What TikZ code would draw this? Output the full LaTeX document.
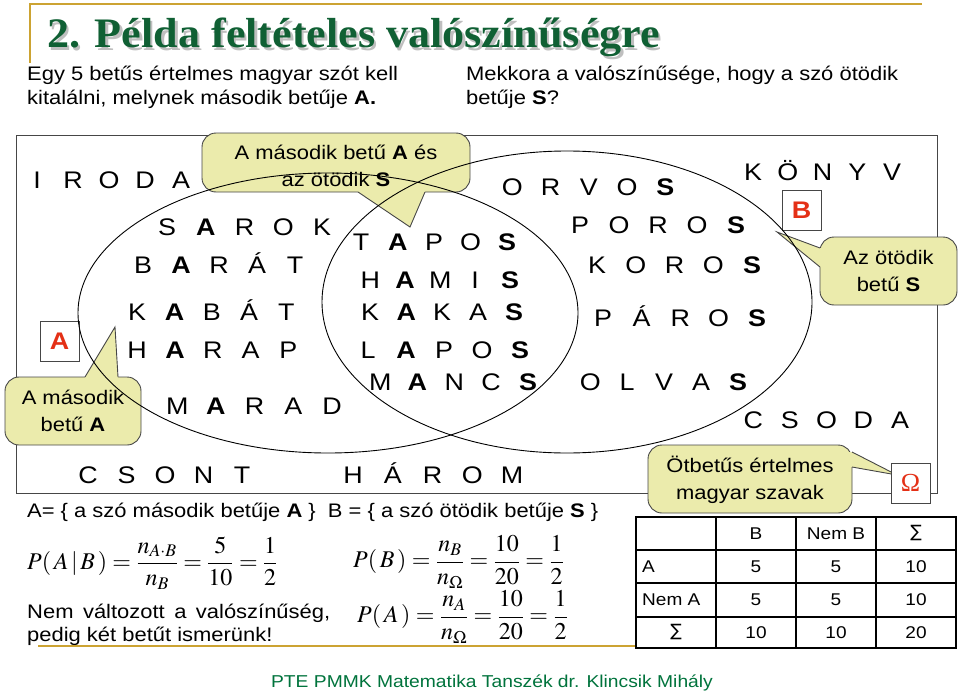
\documentclass[tikz,border=0pt]{standalone}
\usepackage{mathptmx}
\usepackage{amsmath}
\usepackage[no-math]{fontspec}
\setmainfont[FakeStretch=1.12]{Liberation Sans}
\newfontfamily\ttlfont[FakeStretch=1.05]{Liberation Serif}
\newfontfamily\srf{Liberation Serif}
\newfontfamily\djv{DejaVu Sans}
\usepackage{graphicx}
\usetikzlibrary{shapes.geometric}
\definecolor{callfill}{RGB}{235,235,172}
\definecolor{gold}{RGB}{204,163,50}
\definecolor{ttlgreen}{RGB}{16,96,52}
\definecolor{ftgreen}{RGB}{0,115,60}
\definecolor{redl}{RGB}{228,48,22}
\definecolor{frame}{RGB}{70,70,70}
\newcommand\fs[2]{\fontsize{#1}{#2}\selectfont}
\newlength\pitch
\newcommand\lw[1]{\makebox[\pitch]{#1}}
\newcommand\wrow[9]{\node[wrd] (#1) at ({#3-#2/2},{#4+8.5}) {\setlength\pitch{#2pt}\lw{#5}\lw{#6}\lw{#7}\lw{#8}\lw{#9}};}
\tikzset{
  wrd/.style={anchor=base west, inner sep=0pt, font=\fs{24}{28}},
  callbox/.style={draw=frame, line width=0.9pt, fill=callfill, rounded corners=14pt, inner sep=0pt},
  calltext/.style={align=center, font=\fs{19.6}{26.5}, inner sep=0pt},
  txt/.style={anchor=base west, inner sep=0pt, font=\fs{19.6}{24}},
  lbox/.style={draw=frame, line width=0.9pt, fill=white, inner sep=0pt},
  cell/.style={font=\fs{17}{20}, inner sep=0pt},
  setell/.style={ellipse, draw=black, line width=0.9pt, inner sep=0pt},
  ptr/.style={draw=frame, line width=0.9pt, line join=miter},
  mth/.style={anchor=west, inner sep=0pt, font=\fs{24}{28}}
}
\begin{document}
\begin{tikzpicture}[x=1pt,y=-1pt]
\useasboundingbox (0,0) rectangle (960,693);
% title
\draw[gold, line width=2pt] (30,63) -- (30,4) -- (922,4);
\node[anchor=base west, inner sep=0pt, text=black!25, font=\ttlfont\bfseries\fs{42}{46}] (ttlsh) at (49.5,50.5) {2. Példa feltételes valószínűségre};
\node[anchor=base west, inner sep=0pt, text=ttlgreen, font=\ttlfont\bfseries\fs{42}{46}] (ttl) at (47,48) {2. Példa feltételes valószínűségre};
\node[txt] (q1) at (27,80) {Egy 5 betűs értelmes magyar szót kell};
\node[txt] (q2) at (27,104) {kitalálni, melynek második betűje \textbf{A.}};
\node[txt] (q3) at (466,80) {Mekkora a valószínűsége, hogy a szó ötödik};
\node[txt] (q4) at (466,104) {betűje \textbf{S}?};
% main frame
\draw[frame, line width=1pt] (16,135) rectangle (937,493);
% callouts
\node[callbox, minimum width=268pt, minimum height=59pt] (ctop) at (336,162.5) {};
\fill[callfill] (358,189) -- (358,192) -- (410,227) -- (425,192) -- (425,189) -- cycle;
\draw[ptr] (358,192) -- (410,227) -- (425,192);
\node[calltext] (ctopt) at (336,166) {A második betű \textbf{A} és\\az ötödik \textbf{S}};
\node[callbox, minimum width=136pt, minimum height=68pt] (cleft) at (73,411) {};
\fill[callfill] (85,380) -- (85,377) -- (115,327) -- (118,377) -- (118,380) -- cycle;
\draw[ptr] (85,377) -- (115,327) -- (118,377);
\node[calltext] (cleftt) at (73,411) {A második\\betű \textbf{A}};
\node[callbox, minimum width=137pt, minimum height=68pt] (cright) at (888.5,271) {};
\fill[callfill] (823,248) -- (820,248) -- (777,232) -- (820,267) -- (823,267) -- cycle;
\draw[ptr] (820,248) -- (777,232) -- (820,267);
\node[calltext] (crightt) at (888.5,271) {Az ötödik\\betű \textbf{S}};
\node[callbox, minimum width=204pt, minimum height=68pt] (cbot) at (750,479) {};
\fill[callfill] (849,452) -- (852,452) -- (897,475) -- (852,467) -- (849,467) -- cycle;
\draw[ptr] (852,452) -- (897,475) -- (852,467);
\node[calltext] (cbott) at (750,480) {Ötbetűs értelmes\\magyar szavak};
% set boxes
\node[lbox, minimum width=39pt, minimum height=40pt, text=redl, font=\fs{24}{26}\bfseries] (boxA) at (59.5,341) {A};
\node[lbox, minimum width=39pt, minimum height=40pt, text=redl, font=\fs{24}{26}\bfseries] (boxB) at (801.5,210) {B};
\node[lbox, minimum width=39pt, minimum height=40pt, text=redl, font=\srf\fs{26}{28}] (boxO) at (910.5,483) {Ω};
% ellipses
\node[setell, minimum width=500pt, minimum height=280pt] (setA) at (328,313) {};
\node[setell, minimum width=490pt, minimum height=302pt] (setB) at (567,302) {};
% words
\wrow{iroda}{36}{37}{180}{I}{R}{O}{D}{A}
\wrow{sarok}{38.7}{167}{227}{S}{\textbf{A}}{R}{O}{K}
\wrow{barat}{38}{143}{265}{B}{\textbf{A}}{R}{Á}{T}
\wrow{kabat}{37.3}{137}{312}{K}{\textbf{A}}{B}{Á}{T}
\wrow{harap}{37.8}{137}{350}{H}{\textbf{A}}{R}{A}{P}
\wrow{marad}{38.7}{177}{406}{M}{\textbf{A}}{R}{A}{D}
\wrow{tapos}{36.5}{361}{242}{T}{\textbf{A}}{P}{O}{\textbf{S}}
\wrow{hamis}{35}{370}{280}{H}{\textbf{A}}{M}{I}{\textbf{S}}
\wrow{kakas}{36}{370}{312}{K}{\textbf{A}}{K}{A}{\textbf{S}}
\wrow{lapos}{38}{368}{350}{L}{\textbf{A}}{P}{O}{\textbf{S}}
\wrow{mancs}{37}{380}{382}{M}{\textbf{A}}{N}{C}{\textbf{S}}
\wrow{orvos}{38.3}{512}{187}{O}{R}{V}{O}{\textbf{S}}
\wrow{poros}{39}{580}{225}{P}{O}{R}{O}{\textbf{S}}
\wrow{koros}{38.7}{597}{265}{K}{O}{R}{O}{\textbf{S}}
\wrow{paros}{38.5}{603}{318}{P}{Á}{R}{O}{\textbf{S}}
\wrow{olvas}{37}{590}{382}{O}{L}{V}{A}{\textbf{S}}
\wrow{konyv}{34.7}{753}{172}{K}{Ö}{N}{Y}{V}
\wrow{csoda}{36.7}{753}{420}{C}{S}{O}{D}{A}
\wrow{csont}{38.5}{88}{475}{C}{S}{O}{N}{T}
\wrow{harom}{39.7}{353}{475}{H}{Á}{R}{O}{M}
% definitions and formulas
\node[txt] (defs) at (27,517) {A= \{ a szó második betűje \textbf{A} \}\ \ B = \{ a szó ötödik betűje \textbf{S} \}};
\node[mth] (fab) at (27,563) {$P(\,A\,|\,B\,)=\dfrac{n_{A\cdot B}}{n_B}=\dfrac{5}{10}=\dfrac{1}{2}$};
\node[mth] (fb) at (353,562) {$P(\,B\,)=\dfrac{n_B}{n_\Omega}=\dfrac{10}{20}=\dfrac{1}{2}$};
\node[mth] (fa) at (357,617) {$P(\,A\,)=\dfrac{n_A}{n_\Omega}=\dfrac{10}{20}=\dfrac{1}{2}$};
\node[txt] (rem1) at (27,618) {\makebox[303pt][s]{Nem változott a valószínűség,}};
\node[txt] (rem2) at (27,641) {pedig két betűt ismerünk!};
\draw[gold, line width=2pt] (38,646) -- (640,646);
% table
\fill[white] (636,517) rectangle (956,648);
\draw[line width=1.6pt] (716,517) -- (716,648) (796,517) -- (796,648) (876,517) -- (876,648)
  (636,550) -- (956,550) (636,583) -- (956,583) (636,617) -- (956,617);
\draw[line width=2.6pt] (636,517) rectangle (956,648);
\node[cell] (hB) at (756,533.5) {B};
\node[cell] (hnB) at (836,533.5) {Nem B};
\node[cell] (hS) at (916,533.5) {\djv ∑};
\node[cell, anchor=west] (rA) at (642,566.5) {A};
\node[cell] (c11) at (756,566.5) {5};
\node[cell] (c12) at (836,566.5) {5};
\node[cell] (c13) at (916,566.5) {10};
\node[cell, anchor=west] (rnA) at (642,600) {Nem A};
\node[cell] (c21) at (756,600) {5};
\node[cell] (c22) at (836,600) {5};
\node[cell] (c23) at (916,600) {10};
\node[cell] (rS) at (676,632.5) {\djv ∑};
\node[cell] (c31) at (756,632.5) {10};
\node[cell] (c32) at (836,632.5) {10};
\node[cell] (c33) at (916,632.5) {20};
% footer
\node[anchor=base, inner sep=0pt, text=ftgreen, font=\fs{17.2}{20}] (foot) at (492,687) {PTE PMMK Matematika Tanszék dr. Klincsik Mihály};
\end{tikzpicture}
\end{document}
